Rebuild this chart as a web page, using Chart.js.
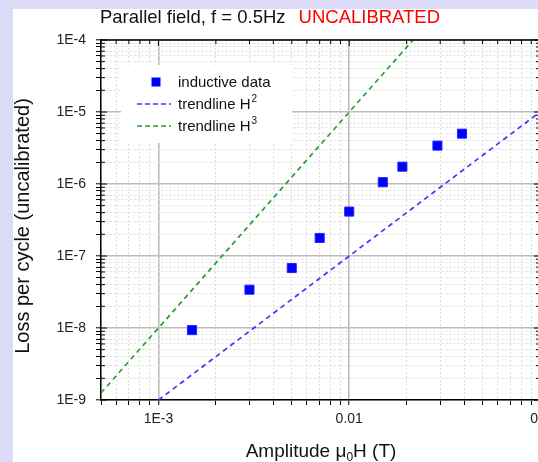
<!DOCTYPE html>
<html>
<head>
<meta charset="utf-8">
<script src="https://cdn.jsdelivr.net/npm/chart.js@4"></script>
<style>
  html, body { margin: 0; padding: 0; background: #dcdcf8; overflow: hidden; }
  #wrap { width: 538px; height: 462px; overflow: hidden; position: relative; }
  canvas { position: absolute; left: 0; top: 0; }
</style>
</head>
<body>
<div id="wrap"><canvas id="chart" width="548" height="462"></canvas></div>
<script>
const amplitude = [0.0015, 0.003, 0.005, 0.007, 0.01, 0.015, 0.019, 0.029, 0.039];
const lossPerCycle = [9.35e-9, 3.4e-8, 6.8e-8, 1.78e-7, 4.14e-7, 1.06e-6, 1.74e-6, 3.41e-6, 5.0e-6];

// trendlines (end points)
const trendH2X = [0.001, 0.01, 0.1];
const trendH2Y = [1e-9, 1e-7, 1e-5];
const trendH3X = [0.0005, 0.001, 0.01, 0.0216];
const trendH3Y = [1.25e-9, 1e-8, 1e-5, 1e-4];

// axis ticks
const xTickValues = [0.0005, 0.0006, 0.0007, 0.0008, 0.0009,
  0.001, 0.002, 0.003, 0.004, 0.005, 0.006, 0.007, 0.008, 0.009,
  0.01, 0.02, 0.03, 0.04, 0.05, 0.06, 0.07, 0.08, 0.09, 0.1];
const xTickLabels = { '0.001': '1E-3', '0.01': '0.01', '0.1': '0.1' };
const yDecades = [1e-9, 1e-8, 1e-7, 1e-6, 1e-5, 1e-4];
const yTickLabels = ['1E-9', '1E-8', '1E-7', '1E-6', '1E-5', '1E-4'];

const FONT = "'Liberation Sans', Arial, sans-serif";

const yTickValues = [];
yDecades.forEach((d, i) => {
    if (i === yDecades.length - 1) { yTickValues.push(d); return; }
    for (let k = 1; k <= 9; k++) yTickValues.push(+(k * d).toPrecision(3));
});

function isDecade(v) {
    const l = Math.log10(v);
    return Math.abs(l - Math.round(l)) < 1e-6;
}

const gridColor = ctx => (ctx.tick && isDecade(ctx.tick.value)) ? '#bdbdbd' : '#dedede';
const gridWidth = ctx => (ctx.tick && isDecade(ctx.tick.value)) ? 1.6 : 1;
const gridDash = ctx => (ctx.tick && isDecade(ctx.tick.value)) ? [] : [2, 2];

// lavender frame + white panel
const panelBg = {
    id: 'panelBg',
    beforeDraw(chart) {
        const c = chart.ctx;
        c.save();
        c.fillStyle = '#dcdcf8';
        c.fillRect(0, 0, chart.width, chart.height);
        c.fillStyle = '#ffffff';
        c.fillRect(13, 9, chart.width - 13, chart.height - 9);
        c.restore();
    }
};

// top/right axis lines with inward ticks, legend, titles
const decorations = {
    id: 'decorations',
    afterDraw(chart) {
        const c = chart.ctx;
        const a = chart.chartArea;
        const xs = chart.scales.x, ys = chart.scales.y;
        c.save();
        c.strokeStyle = '#000';
        c.lineWidth = 1.5;
        c.beginPath();
        c.moveTo(a.left, a.top); c.lineTo(a.right, a.top);
        c.moveTo(a.right, a.top); c.lineTo(a.right, a.bottom);
        c.stroke();
        c.lineWidth = 1;
        c.beginPath();
        xTickValues.forEach(v => {
            const px = xs.getPixelForValue(v);
            const len = isDecade(v) ? 6 : 4;
            c.moveTo(px, a.top); c.lineTo(px, a.top + len);
        });
        yTickValues.forEach(v => {
            const py = ys.getPixelForValue(v);
            const len = isDecade(v) ? 6 : 4;
            c.moveTo(a.right, py); c.lineTo(a.right - len, py);
            c.moveTo(a.left, py); c.lineTo(a.left + len, py);
        });
        c.stroke();

        // legend
        c.fillStyle = '#fff';
        c.fillRect(121, 65, 171, 78);
        const rows = [
            { type: 'point', color: '#0000ff', text: 'inductive data', sup: '' },
            { type: 'line', color: '#3a3aff', text: 'trendline H', sup: '2' },
            { type: 'line', color: '#2e9e2e', text: 'trendline H', sup: '3' }
        ];
        rows.forEach((r, i) => {
            const y = 82 + i * 22;
            if (r.type === 'point') {
                c.fillStyle = r.color;
                c.fillRect(151.5, y - 4.5, 9, 9);
            } else {
                c.strokeStyle = r.color;
                c.lineWidth = 1.7;
                c.setLineDash([5, 3]);
                c.beginPath();
                c.moveTo(137, y); c.lineTo(171, y);
                c.stroke();
                c.setLineDash([]);
            }
            c.fillStyle = '#111';
            c.font = '15px ' + FONT;
            c.textBaseline = 'middle';
            c.textAlign = 'left';
            c.fillText(r.text, 178, y + 1);
            if (r.sup) {
                const w = c.measureText(r.text).width;
                c.font = '10px ' + FONT;
                c.fillText(r.sup, 178 + w + 1, y - 5);
            }
        });

        // chart title (two colours)
        c.textBaseline = 'alphabetic';
        c.font = '18.5px ' + FONT;
        const t1 = 'Parallel field, f = 0.5Hz', t2 = 'UNCALIBRATED';
        const w1 = c.measureText(t1).width, w2 = c.measureText(t2).width, gap = 13;
        let tx = 270 - (w1 + gap + w2) / 2;
        c.fillStyle = '#111';
        c.fillText(t1, tx, 23);
        c.fillStyle = '#ff0000';
        c.fillText(t2, tx + w1 + gap, 23);

        // x axis title with subscript
        c.fillStyle = '#111';
        c.font = '19px ' + FONT;
        const p1 = 'Amplitude μ', p3 = 'H (T)';
        const wp1 = c.measureText(p1).width, wp3 = c.measureText(p3).width;
        c.font = '12px ' + FONT;
        const wp2 = c.measureText('0').width;
        let ax = 321 - (wp1 + wp2 + wp3) / 2;
        c.font = '19px ' + FONT;
        c.fillText(p1, ax, 457);
        c.font = '12px ' + FONT;
        c.fillText('0', ax + wp1, 461);
        c.font = '19px ' + FONT;
        c.fillText(p3, ax + wp1 + wp2, 457);

        // y axis title
        c.font = '20px ' + FONT;
        c.translate(29, 226);
        c.rotate(-Math.PI / 2);
        c.textAlign = 'center';
        c.fillText('Loss per cycle (uncalibrated)', 0, 0);
        c.restore();
    }
};

new Chart(document.getElementById('chart'), {
    type: 'scatter',
    data: {
        datasets: [
            {
                label: 'trendline H2',
                data: trendH2X.map((x, i) => ({ x: x, y: trendH2Y[i] })),
                showLine: true,
                borderColor: '#3a3aff',
                borderWidth: 1.7,
                borderDash: [5, 4],
                pointRadius: 0,
                fill: false
            },
            {
                label: 'trendline H3',
                data: trendH3X.map((x, i) => ({ x: x, y: trendH3Y[i] })),
                showLine: true,
                borderColor: '#2e9e2e',
                borderWidth: 1.7,
                borderDash: [5, 4],
                pointRadius: 0,
                fill: false
            },
            {
                label: 'inductive data',
                data: amplitude.map((x, i) => ({ x: x, y: lossPerCycle[i] })),
                pointStyle: 'rect',
                pointRadius: 6.4,
                backgroundColor: '#0000ff',
                borderColor: '#2222ff',
                borderWidth: 1
            }
        ]
    },
    options: {
        responsive: false,
        animation: false,
        devicePixelRatio: 1,
        layout: { padding: { left: 0, top: 40, right: 8, bottom: 0 } },
        plugins: {
            legend: { display: false },
            tooltip: { enabled: false }
        },
        scales: {
            x: {
                type: 'logarithmic',
                min: 0.0005,
                max: 0.1,
                afterBuildTicks: scale => {
                    scale.ticks = xTickValues.map(v => ({ value: v, major: isDecade(v) }));
                },
                afterFit: scale => {
                    scale.height = 62;
                    scale.paddingLeft = 0;
                    scale.paddingRight = 0;
                },
                ticks: {
                    autoSkip: false,
                    maxRotation: 0,
                    padding: 6,
                    color: '#222',
                    font: { family: FONT, size: 14 },
                    callback: v => xTickLabels[String(+v.toPrecision(3))] || ''
                },
                grid: {
                    color: gridColor,
                    lineWidth: gridWidth,
                    tickColor: '#000',
                    tickLength: 5,
                    tickWidth: 1
                },
                border: { color: '#000', width: 1.5, dash: gridDash }
            },
            y: {
                type: 'logarithmic',
                min: 1e-9,
                max: 1e-4,
                afterBuildTicks: scale => {
                    scale.ticks = yTickValues.map(v => ({ value: v, major: isDecade(v) }));
                },
                afterFit: scale => {
                    scale.width = 101;
                    scale.paddingTop = 0;
                    scale.paddingBottom = 0;
                },
                ticks: {
                    autoSkip: false,
                    padding: 10,
                    color: '#222',
                    font: { family: FONT, size: 14 },
                    callback: v => {
                        const i = yDecades.findIndex(d => Math.abs(d - v) / d < 1e-6);
                        return i >= 0 ? yTickLabels[i] : '';
                    }
                },
                grid: {
                    color: gridColor,
                    lineWidth: gridWidth,
                    tickColor: '#000',
                    tickLength: 5,
                    tickWidth: 1
                },
                border: { color: '#000', width: 1.5, dash: gridDash }
            }
        }
    },
    plugins: [panelBg, decorations]
});
</script>
</body>
</html>
